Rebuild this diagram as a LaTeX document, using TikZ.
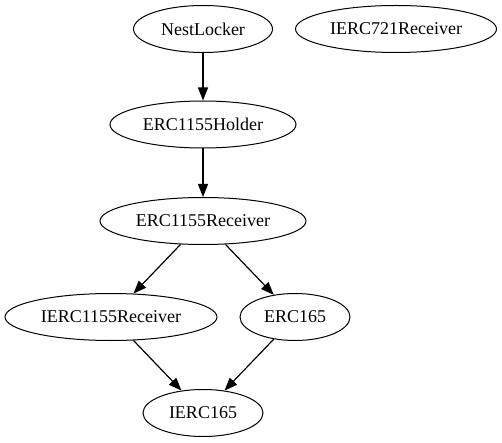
\documentclass[tikz,border=0pt]{standalone}
\usepackage{fontspec}
\setmainfont{Liberation Serif}
\usetikzlibrary{shapes.geometric,arrows.meta}
\begin{document}
\begin{tikzpicture}[x=1pt,y=-1pt,
  cls/.style={ellipse, draw, line width=1pt, inner sep=0pt, minimum height=47pt, font=\fontsize{18}{20}\selectfont},
  dep/.style={-{Triangle[length=13pt,width=10pt]}, line width=1.2pt}]
\useasboundingbox (0,0) rectangle (502,443);
\node[cls, minimum width=139pt] (nest) at (203,29) {NestLocker};
\node[cls, minimum width=201pt] (i721) at (396,29) {IERC721Receiver};
\node[cls, minimum width=186pt] (holder) at (203,124.5) {ERC1155Holder};
\node[cls, minimum width=206pt] (recv) at (203,221) {ERC1155Receiver};
\node[cls, minimum width=212pt] (irecv) at (111,317) {IERC1155Receiver};
\node[cls, minimum width=110pt] (e165) at (295,317) {ERC165};
\node[cls, minimum width=120pt] (i165) at (203,413) {IERC165};
\draw[dep] (nest) -- (holder);
\draw[dep] (holder) -- (recv);
\draw[dep] (recv) -- (irecv);
\draw[dep] (recv) -- (e165);
\draw[dep] (irecv) -- (i165);
\draw[dep] (e165) -- (i165);
\end{tikzpicture}
\end{document}
